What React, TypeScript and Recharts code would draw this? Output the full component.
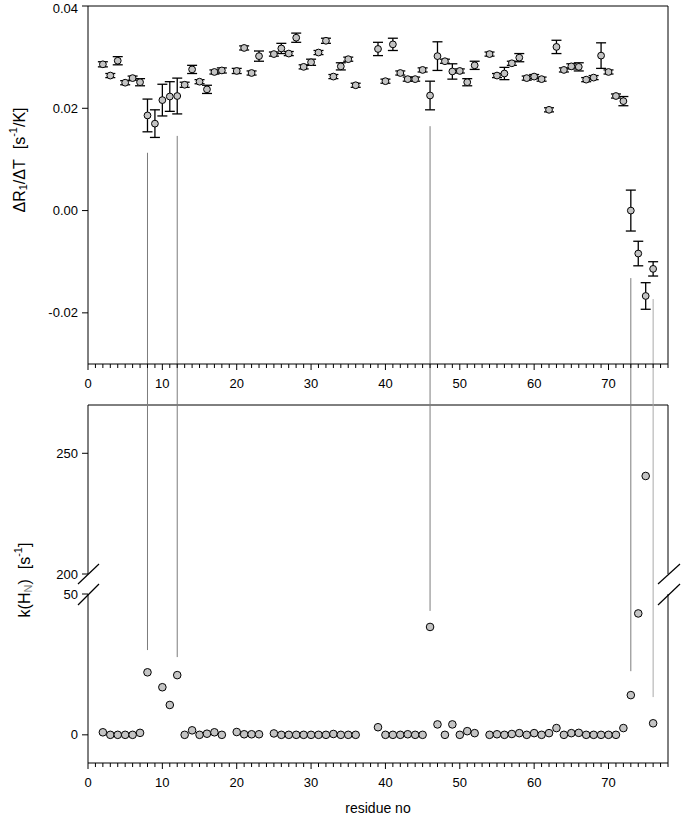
import { ScatterChart, Scatter, XAxis, YAxis, ErrorBar, ReferenceLine } from "recharts";

const FONT = '"Liberation Sans", Arial, Helvetica, sans-serif';

// top panel: temperature slope of R1 per residue
const r1Residues = [
  2, 3, 4, 5, 6, 7, 8, 9, 10, 11, 12, 13, 14, 15, 16, 17, 18, 20, 21, 22, 23, 25, 26, 27, 28, 29, 30,
  31, 32, 33, 34, 35, 36, 39, 40, 41, 42, 43, 44, 45, 46, 47, 48, 49, 50, 51, 52, 54, 55, 56, 57, 58,
  59, 60, 61, 62, 63, 64, 65, 66, 67, 68, 69, 70, 71, 72, 73, 74, 75, 76,
];
const r1Slope = [
  0.0286, 0.0264, 0.0293, 0.025, 0.0259, 0.0251, 0.0186, 0.017, 0.0216, 0.0223, 0.0224, 0.0246,
  0.0276, 0.0252, 0.0237, 0.0271, 0.0274, 0.0273, 0.0318, 0.0269, 0.0302, 0.0306, 0.0317, 0.0307,
  0.0338, 0.0281, 0.029, 0.0309, 0.0332, 0.0262, 0.0282, 0.0296, 0.0245, 0.0316, 0.0253, 0.0325,
  0.0269, 0.0257, 0.0257, 0.0275, 0.0225, 0.0302, 0.0292, 0.0272, 0.0273, 0.0251, 0.0284, 0.0306,
  0.0264, 0.0268, 0.0288, 0.0299, 0.0259, 0.0262, 0.0257, 0.0197, 0.032, 0.0275, 0.0282, 0.0281,
  0.0256, 0.026, 0.0303, 0.0271, 0.0224, 0.0214, 0.0, -0.0084, -0.0167, -0.0114,
];
const r1Error = [
  0.0005, 0.0004, 0.0008, 0.0004, 0.0004, 0.0007, 0.0032, 0.0027, 0.0031, 0.0029, 0.0035, 0.0005,
  0.0008, 0.0004, 0.0008, 0.0004, 0.0005, 0.0005, 0.0004, 0.0004, 0.001, 0.0004, 0.001, 0.0004,
  0.0009, 0.0004, 0.0006, 0.0004, 0.0005, 0.0004, 0.0007, 0.0004, 0.0004, 0.0013, 0.0004, 0.0012,
  0.0004, 0.0004, 0.0004, 0.0004, 0.0028, 0.0028, 0.0004, 0.0015, 0.0004, 0.0007, 0.0008, 0.0004,
  0.0004, 0.0012, 0.0004, 0.0008, 0.0004, 0.0004, 0.0004, 0.0004, 0.0013, 0.0004, 0.0005, 0.0008,
  0.0004, 0.0004, 0.0025, 0.0004, 0.0004, 0.0009, 0.004, 0.0024, 0.0026, 0.0014,
];

// bottom panel: amide exchange rate k(HN)
const kResidues = [
  2, 3, 4, 5, 6, 7, 8, 10, 11, 12, 13, 14, 15, 16, 17, 18, 20, 21, 22, 23, 25, 26, 27, 28, 29, 30, 31,
  32, 33, 34, 35, 36, 39, 40, 41, 42, 43, 44, 45, 46, 47, 48, 49, 50, 51, 52, 54, 55, 56, 57, 58, 59,
  60, 61, 62, 63, 64, 65, 66, 67, 68, 69, 70, 71, 72, 73, 74, 75, 76,
];
const kValues = [
  0.9, 0, 0, 0, 0, 0.7, 22.2, 16.9, 10.6, 21.2, 0, 1.6, 0, 0.4, 0.9, 0, 1.0, 0.2, 0.2, 0.2, 0.5, 0, 0,
  0, 0, 0, 0, 0, 0.3, 0, 0, 0, 2.7, 0, 0, 0, 0.2, 0, 0, 38.3, 3.7, 0, 3.7, 0, 1.3, 0.6, 0, 0.2, 0, 0.3,
  0.6, 0, 0.6, 0, 0.6, 2.4, 0, 0.6, 0.7, 0, 0, 0, 0, 0, 2.4, 14.1, 43.1, 240.6, 4.1,
];

// guide lines joining the two panels
const linkResidues = [8, 12, 46, 73, 76];
const linkTopEnd = [0.0113, 0.0146, 0.0165, -0.0132, -0.0173];
const linkBottomEnd = [30.1, 27.6, 44, 22.6, 13.4];
const linkColors = ["#7c7c7c", "#7c7c7c", "#7c7c7c", "#7c7c7c", "#aaaaaa"];

const xMajorTicks = [0, 10, 20, 30, 40, 50, 60, 70];
const r1Ticks = [-0.02, 0, 0.02, 0.04];
const kLowTicks = [0, 50];
const kHighTicks = [200, 250];

const X_MAX = 78;
const xAllTicks = Array.from({ length: X_MAX + 1 }, (_, i) => i);

const r1Data = r1Residues.map((r, i) => ({ x: r, y: r1Slope[i], err: r1Error[i] }));
const kData = kResidues.map((r, i) => ({ x: r, y: kValues[i] }));
const kLow = kData.filter((d) => d.y < 50);
const kHigh = kData.filter((d) => d.y >= 200);

const dot = (r: number) => (p: any) => (
  <circle cx={p.cx} cy={p.cy} r={r} fill="#c4c4c4" stroke="#000" strokeWidth={1} />
);

const XTick = (props: any) => {
  const { x, y, payload } = props;
  const v = payload.value;
  const major = v % 10 === 0;
  return (
    <g>
      <line x1={x} x2={x} y1={y} y2={y + (major ? 6 : 4)} stroke="#000" strokeWidth={1} />
      {xMajorTicks.includes(v) && (
        <text x={x} y={y + 24} textAnchor="middle" fontSize={13} fontFamily={FONT} fill="#000">
          {v}
        </text>
      )}
    </g>
  );
};

const yTickStyle = { fontSize: 13, fill: "#000", fontFamily: FONT };

export default function App() {
  return (
    <div style={{ position: "absolute", left: 0, top: 0, width: 685, height: 821, background: "#fff", fontFamily: FONT }}>
      {/* top panel */}
      <div style={{ position: "absolute", left: 0, top: 0 }}>
        <ScatterChart width={685} height={400} margin={{ top: 6, right: 17, bottom: 0, left: 0 }}>
          <XAxis
            type="number"
            dataKey="x"
            domain={[0, X_MAX]}
            ticks={xAllTicks}
            interval={0}
            height={36}
            tickSize={0}
            tickMargin={0}
            tickLine={false}
            axisLine={{ stroke: "#000" }}
            tick={<XTick />}
          />
          <YAxis
            type="number"
            dataKey="y"
            domain={[-0.03, 0.04]}
            ticks={r1Ticks}
            width={88}
            tickSize={6}
            tickMargin={4}
            tick={yTickStyle}
            tickLine={{ stroke: "#000" }}
            axisLine={{ stroke: "#000" }}
            tickFormatter={(v: number) => v.toFixed(2)}
          />
          <ReferenceLine y={0.04} stroke="#000" />
          <ReferenceLine x={X_MAX} stroke="#000" />
          {linkResidues.map((r, i) => (
            <ReferenceLine
              key={r}
              segment={[{ x: r, y: linkTopEnd[i] }, { x: r, y: -0.045 }]}
              ifOverflow="visible"
              stroke={linkColors[i]}
              strokeWidth={1}
            />
          ))}
          <Scatter data={r1Data} shape={dot(3.4)} isAnimationActive={false}>
            <ErrorBar dataKey="err" direction="y" width={5} stroke="#000" strokeWidth={1.3} />
          </Scatter>
        </ScatterChart>
      </div>

      {/* bottom panel, upper segment */}
      <div style={{ position: "absolute", left: 0, top: 400 }}>
        <ScatterChart width={685} height={184} margin={{ top: 5, right: 17, bottom: 10, left: 0 }}>
          <XAxis type="number" dataKey="x" domain={[0, X_MAX]} hide />
          <YAxis
            type="number"
            dataKey="y"
            domain={[200, 270]}
            ticks={kHighTicks}
            width={88}
            tickSize={6}
            tickMargin={4}
            tick={yTickStyle}
            tickLine={{ stroke: "#000" }}
            axisLine={{ stroke: "#000" }}
          />
          <ReferenceLine y={270} stroke="#000" />
          <ReferenceLine x={X_MAX} stroke="#000" />
          {linkResidues.map((r, i) => (
            <ReferenceLine
              key={r}
              segment={[{ x: r, y: 280 }, { x: r, y: 190 }]}
              ifOverflow="visible"
              stroke={linkColors[i]}
              strokeWidth={1}
            />
          ))}
          <Scatter data={kHigh} shape={dot(3.8)} isAnimationActive={false} />
        </ScatterChart>
      </div>

      {/* bottom panel, lower segment */}
      <div style={{ position: "absolute", left: 0, top: 584 }}>
        <ScatterChart width={685} height={237} margin={{ top: 10, right: 17, bottom: 0, left: 0 }}>
          <XAxis
            type="number"
            dataKey="x"
            domain={[0, X_MAX]}
            ticks={xAllTicks}
            interval={0}
            height={58}
            tickSize={0}
            tickMargin={0}
            tickLine={false}
            axisLine={{ stroke: "#000" }}
            tick={<XTick />}
            label={{ value: "residue no", position: "insideBottom", offset: 8, fontSize: 14, fill: "#000", fontFamily: FONT }}
          />
          <YAxis
            type="number"
            dataKey="y"
            domain={[-10, 50]}
            ticks={kLowTicks}
            width={88}
            tickSize={6}
            tickMargin={4}
            tick={yTickStyle}
            tickLine={{ stroke: "#000" }}
            axisLine={{ stroke: "#000" }}
          />
          <ReferenceLine x={X_MAX} stroke="#000" />
          {linkResidues.map((r, i) => (
            <ReferenceLine
              key={r}
              segment={[{ x: r, y: 60 }, { x: r, y: linkBottomEnd[i] }]}
              ifOverflow="visible"
              stroke={linkColors[i]}
              strokeWidth={1}
            />
          ))}
          <Scatter data={kLow} shape={dot(3.8)} isAnimationActive={false} />
        </ScatterChart>
      </div>

      {/* axis titles and break marks */}
      <svg width={685} height={821} style={{ position: "absolute", left: 0, top: 0, pointerEvents: "none" }}>
        <text
          transform="rotate(-90 19 160)"
          x={19}
          y={160}
          textAnchor="middle"
          dominantBaseline="central"
          fontSize={16}
          fontFamily={FONT}
          fill="#000"
        >
          ΔR<tspan fontSize={11} dy={4}>1</tspan>
          <tspan dy={-4}>/ΔT</tspan>
          <tspan dx={10}>[s</tspan>
          <tspan fontSize={11} dy={-6}>-1</tspan>
          <tspan dy={6}>/K]</tspan>
        </text>
        <text
          transform="rotate(-90 24 580)"
          x={24}
          y={580}
          textAnchor="middle"
          dominantBaseline="central"
          fontSize={16}
          fontFamily={FONT}
          fill="#000"
        >
          k(H<tspan fontSize={11} dy={4} fill="#777">N</tspan>
          <tspan dy={-4}>)</tspan>
          <tspan dx={10}>[s</tspan>
          <tspan fontSize={11} dy={-6}>-1</tspan>
          <tspan dy={6}>]</tspan>
        </text>
        <g stroke="#000" strokeWidth={1.2}>
          <line x1={78} y1={584} x2={99} y2={564} />
          <line x1={78} y1={605} x2={99} y2={584} />
          <line x1={658} y1={584} x2={680} y2={564} />
          <line x1={658} y1={605} x2={680} y2={584} />
        </g>
      </svg>
    </div>
  );
}
